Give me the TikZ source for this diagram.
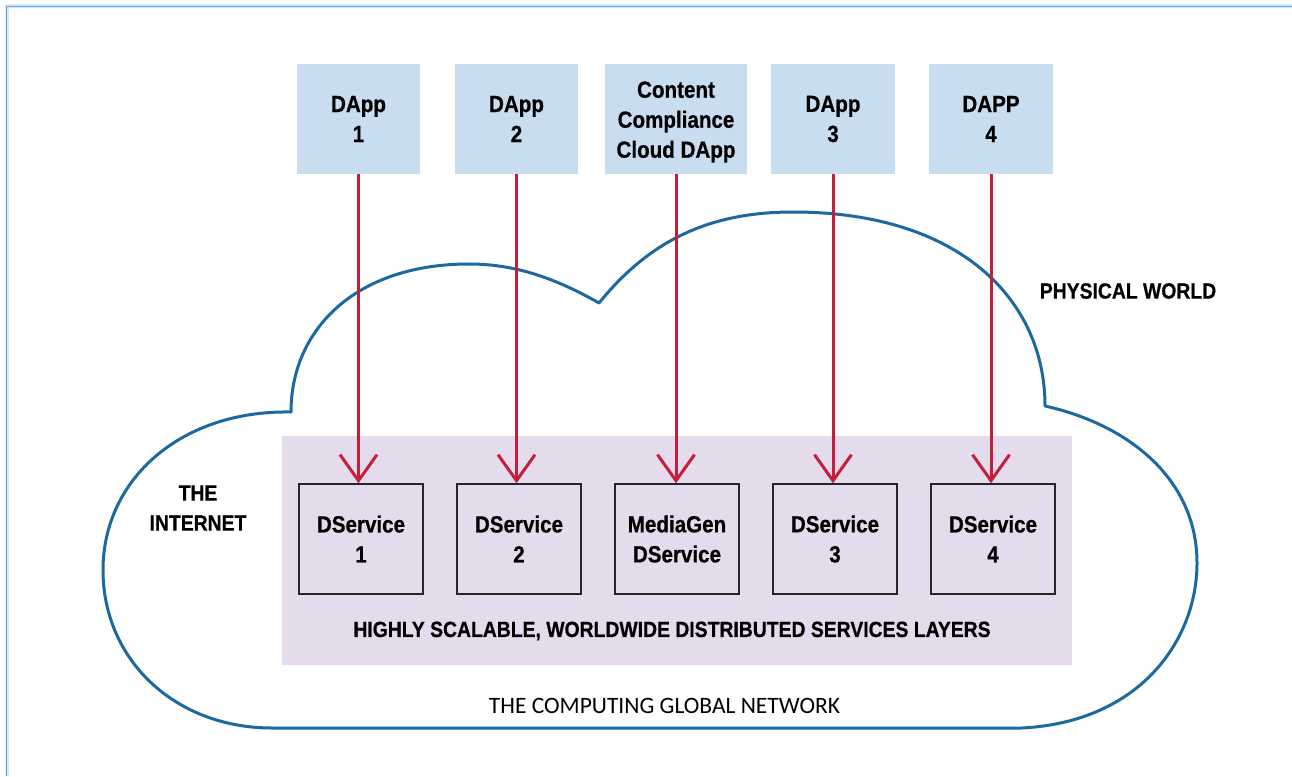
\documentclass[tikz,border=0pt]{standalone}
\usepackage{fontspec}
\setmainfont{Liberation Sans}[FakeStretch=0.88, BoldFeatures={FakeBold=0.6}]
\newfontfamily\calfont{Carlito}
\usepackage{xcolor}
\usepackage{tikz}
\usetikzlibrary{arrows.meta}
\definecolor{appblue}{HTML}{C9DDF0}
\definecolor{layerpurple}{HTML}{E4DCED}
\definecolor{arrowred}{HTML}{C41E3A}
\definecolor{cloudblue}{HTML}{1C69A0}
\definecolor{frameblue}{HTML}{5FA8E0}
\newcommand{\svcfont}{\bfseries\fontsize{23.4}{30}\selectfont}
\newcommand{\tagfont}{\bfseries\fontsize{22}{30}\selectfont}
\tikzstyle{app} = [rectangle, fill=appblue, align=center, inner sep=0pt, minimum width=123pt, minimum height=110pt, font=\svcfont]
\tikzstyle{service} = [rectangle, draw=black!85, line width=1.5pt, fill=layerpurple, align=center, inner sep=0pt, minimum width=124pt, minimum height=110pt, font=\svcfont]
\tikzstyle{layer} = [rectangle, fill=layerpurple, inner sep=0pt, minimum width=790pt, minimum height=229pt]
\tikzstyle{tag} = [align=center, inner sep=0pt, font=\tagfont]
\tikzstyle{cloud} = [draw=cloudblue, line width=3pt, line join=round]
\tikzstyle{line} = [draw, arrowred, line width=3pt, -{Straight Barb[length=26pt,width=37pt]}]

\begin{document}
\begin{tikzpicture}[x=1pt,y=-1pt]
\useasboundingbox (0,0) rectangle (1292,776);
% frame
\draw[frameblue!25, line width=4pt] (6.5,776) -- (6.5,6.5) -- (1292,6.5);
\draw[frameblue, line width=1.2pt] (6.5,776) -- (6.5,6.5) -- (1292,6.5);
% the cloud
\path[cloud] (272,728) -- (1022,728)
  .. controls (1140,722) and (1197,640) .. (1197,563)
  .. controls (1197,480) and (1130,425) .. (1045,406)
  .. controls (1045,300) and (960,212) .. (793,212)
  .. controls (710,212) and (650,240) .. (599,303)
  .. controls (550,275) and (510,264) .. (469,264)
  .. controls (355,264) and (291,330) .. (291,412)
  .. controls (180,410) and (103,480) .. (103,570)
  .. controls (103,660) and (175,728) .. (272,728) -- cycle;
\node [layer] (layer) at (677,550.5) {};
% dapps on top
\node [app] (app1) at (358.5,119) {DApp\\1};
\node [app] (app2) at (516.5,119) {DApp\\2};
\node [app, minimum width=142pt] (ccd) at (676,119) {};
\node [font=\svcfont, align=center, inner sep=0pt] (ccdlabel) at (676,122) {Content\\Compliance\\Cloud DApp};
\node [app, minimum width=124pt] (app3) at (833,119) {DApp\\3};
\node [app, minimum width=124pt] (app4) at (991,119) {DAPP\\4};
% services in the layer
\node [service] (svc1) at (361,539) {DService\\1};
\node [service] (svc2) at (519,539) {DService\\2};
\node [service] (mgen) at (677,539) {MediaGen\\DService};
\node [service] (svc3) at (835,539) {DService\\3};
\node [service] (svc4) at (993,539) {DService\\4};
\node [tag] (layertxt) at (672,631) {HIGHLY SCALABLE, WORLDWIDE DISTRIBUTED SERVICES LAYERS};
\node [tag] (internet) at (198,508) {THE\\INTERNET};
\node [tag] (physical) at (1128,291) {PHYSICAL WORLD};
\node [inner sep=0pt, font=\calfont\fontsize{23.5}{28}\selectfont] (network) at (664.5,706) {THE COMPUTING GLOBAL NETWORK};
% arrows
\path [line] (app1.south) -- (app1.south |- svc1.north);
\path [line] (app2.south) -- (app2.south |- svc2.north);
\path [line] (ccd.south) -- (ccd.south |- mgen.north);
\path [line] (app3.south) -- (app3.south |- svc3.north);
\path [line] (app4.south) -- (app4.south |- svc4.north);
\end{tikzpicture}
\end{document}
